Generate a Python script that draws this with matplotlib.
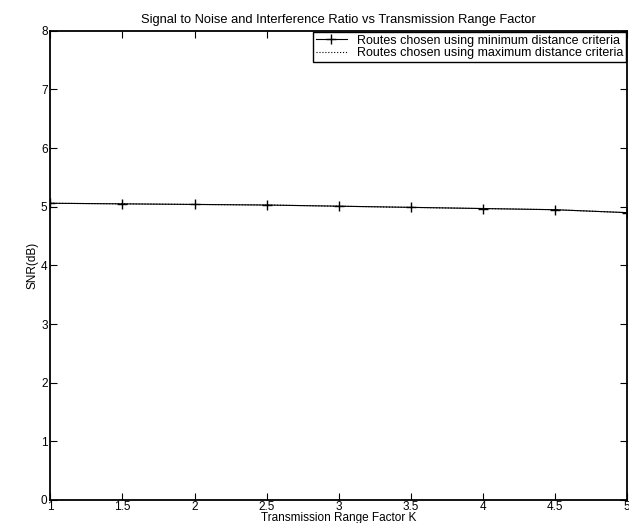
import matplotlib
matplotlib.use("Agg")
import matplotlib.pyplot as plt

k = [1, 1.5, 2, 2.5, 3, 3.5, 4, 4.5, 5]
snr_min = [5.06, 5.05, 5.04, 5.03, 5.01, 4.99, 4.97, 4.95, 4.90]
snr_max = [5.06, 5.05, 5.04, 5.03, 5.01, 4.99, 4.97, 4.95, 4.90]

plt.rcParams['font.family'] = ['Liberation Sans', 'DejaVu Sans']

fig = plt.figure(figsize=(6.29, 5.23), dpi=100)
ax = fig.add_axes([0.08, 0.044, 0.917, 0.897])

ax.plot(k, snr_min, color='black', linewidth=0.8, marker='+', markersize=7,
        label='Routes chosen using minimum distance criteria')
ax.plot(k, snr_max, color='black', linewidth=0.8, linestyle=':',
        label='Routes chosen using maximum distance criteria')

ax.set_xlim(1, 5)
ax.set_ylim(0, 8)
ax.set_xticks(k)
ax.set_xticklabels(['1', '1.5', '2', '2.5', '3', '3.5', '4', '4.5', '5'])
ax.set_yticks(range(9))
ax.tick_params(direction='in', length=5, labelsize=8.5, top=True, right=True)
ax.tick_params(axis='x', pad=1)
ax.tick_params(axis='y', pad=2)
for s in ax.spines.values():
    s.set_linewidth(1.3)

ax.set_title('Signal to Noise and Interference Ratio vs Transmission Range Factor',
             fontsize=9.3, pad=6)
ax.set_xlabel('Transmission Range Factor K', fontsize=8.5, labelpad=-1)
ax.set_ylabel('SNR(dB)', fontsize=8.5, labelpad=2)
ax.legend(loc='upper right', fontsize=9, frameon=True, fancybox=False,
          edgecolor='black', framealpha=1, borderpad=0.2, handlelength=2.5,
          borderaxespad=0.1, labelspacing=0.05)

fig.savefig('out.png', dpi=100)
